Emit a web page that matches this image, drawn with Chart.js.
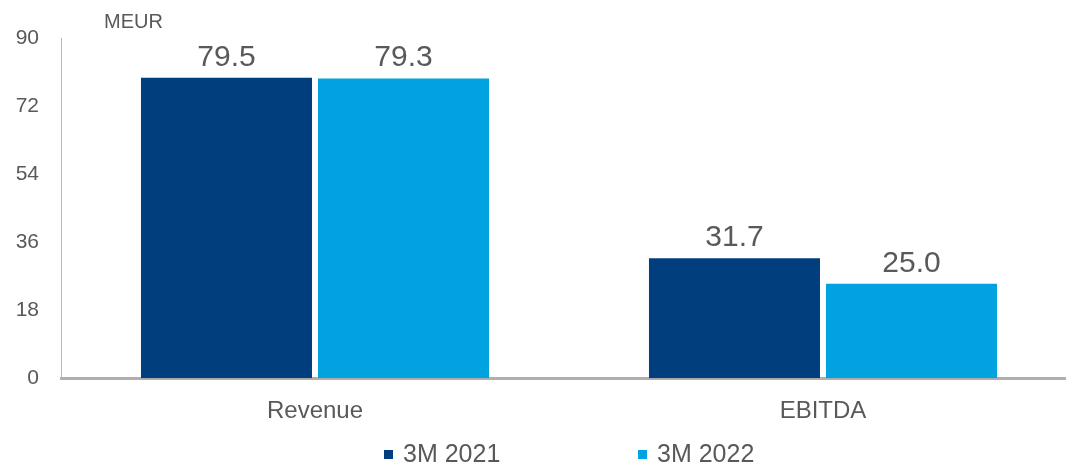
<!DOCTYPE html>
<html>
<head>
<meta charset="utf-8">
<script src="https://cdn.jsdelivr.net/npm/chart.js@4.4.1/dist/chart.umd.min.js"></script>
<style>
  html, body { margin: 0; padding: 0; background: #fff; overflow: hidden; }
  #wrap { position: relative; width: 1066px; height: 467px; overflow: hidden; }
  #chart { position: absolute; left: 0; top: 0; }
  .leg { position: absolute; top: 438px; font-family: "Liberation Sans", Arial, sans-serif;
         font-size: 25px; color: #595959; line-height: 30px; white-space: nowrap; }
  .leg span { display: inline-block; width: 9px; height: 9px; margin-right: 10px; vertical-align: 3px; }
</style>
</head>
<body>
<div id="wrap">
  <canvas id="chart" width="1077" height="467"></canvas>
  <div class="leg" style="left:384px"><span style="background:#003e7e"></span>3M 2021</div>
  <div class="leg" style="left:638px"><span style="background:#00a3e0"></span>3M 2022</div>
</div>
<script>
var categories = ['Revenue', 'EBITDA'];
var series2021 = [79.5, 31.7];
var series2022 = [79.3, 25.0];
var seriesNames = ['3M 2021', '3M 2022'];
var yTicks = [0, 18, 36, 54, 72, 90];

var textColor = '#595959';
var fontFamily = '"Liberation Sans", Arial, sans-serif';

// value labels above bars + unit label
var labelPlugin = {
    id: 'valueLabels',
    afterDatasetsDraw: function(chart) {
        var ctx = chart.ctx;
        ctx.save();
        ctx.fillStyle = textColor;
        ctx.font = '30px ' + fontFamily;
        ctx.textAlign = 'center';
        ctx.textBaseline = 'alphabetic';
        chart.data.datasets.forEach(function(ds, i) {
            chart.getDatasetMeta(i).data.forEach(function(bar, j) {
                ctx.fillText(ds.data[j].toFixed(1), bar.x, bar.y - 12);
            });
        });
        ctx.font = '20px ' + fontFamily;
        ctx.textAlign = 'left';
        ctx.fillText('MEUR', 104, 28);
        ctx.restore();
    }
};

var ctx = document.getElementById('chart').getContext('2d');
var barChart = new Chart(ctx, {
    type: 'bar',
    data: {
        labels: categories,
        datasets: [{
            label: seriesNames[0],
            data: series2021,
            backgroundColor: '#003e7e',
            categoryPercentage: 0.697,
            barPercentage: 0.966
        }, {
            label: seriesNames[1],
            data: series2022,
            backgroundColor: '#00a3e0',
            categoryPercentage: 0.697,
            barPercentage: 0.966
        }]
    },
    options: {
        responsive: false,
        animation: false,
        layout: { padding: { top: 38, right: 0, bottom: 22, left: 0 } },
        plugins: {
            legend: { display: false },
            tooltip: { enabled: false }
        },
        scales: {
            x: {
                grid: { display: false, drawTicks: false },
                border: { display: true, color: '#b1aeab', width: 3 },
                ticks: { color: textColor, font: { family: fontFamily, size: 24 }, padding: 19 }
            },
            y: {
                min: 0,
                max: 90,
                afterBuildTicks: function(axis) {
                    axis.ticks = yTicks.map(function(v) { return { value: v }; });
                },
                afterFit: function(axis) { axis.width = 61; },
                grid: { display: false, drawTicks: false },
                border: { display: true, color: '#b7b7b7', width: 1 },
                ticks: { color: textColor, font: { family: fontFamily, size: 21 }, padding: 22 }
            }
        }
    },
    plugins: [labelPlugin]
});
</script>
</body>
</html>
